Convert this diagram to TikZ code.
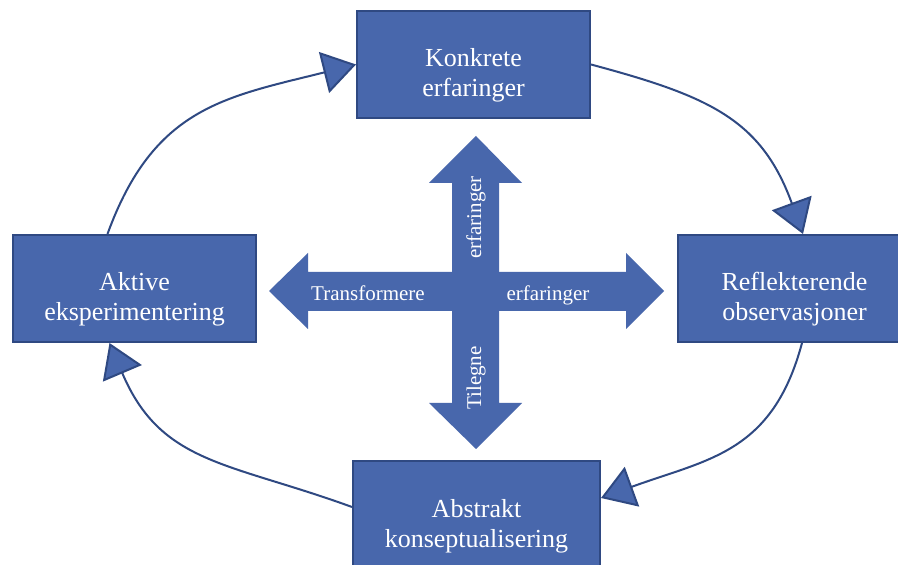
\documentclass[tikz,border=0pt]{standalone}
\usepackage{fontspec}
\setmainfont{Liberation Serif}
\usetikzlibrary{arrows.meta}
\definecolor{boxfill}{RGB}{72,103,172}
\definecolor{boxline}{RGB}{47,73,130}

\begin{document}
\begin{tikzpicture}[x=1pt, y=1pt,
    stage/.style={draw=boxline, line width=2pt, fill=boxfill, minimum height=107pt, inner sep=0pt},
    stagetext/.style={text=white, align=center, yshift=-11pt, font=\fontsize{26}{30}\selectfont},
    cycle/.style={draw=boxline, line width=2pt, looseness=1.15, -{Triangle[length=33pt, width=42pt, fill=boxfill]}},
    crosstext/.style={text=white, anchor=base, inner sep=0pt, font=\fontsize{21}{25}\selectfont}]
  \useasboundingbox[fill=white] (0, 0) rectangle (898, 565);

  % the four stages
  \node[stage, minimum width=233pt, label={[stagetext]center:Konkrete\\erfaringer}] (kon) at (473.5, 500.5) {};
  \node[stage, minimum width=233pt, label={[stagetext]center:Reflekterende\\observasjoner}] (refl) at (794.5, 276.5) {};
  \node[stage, minimum width=247pt, label={[stagetext]center:Abstrakt\\konseptualisering}] (abs) at (476.5, 50) {};
  \node[stage, minimum width=243pt, label={[stagetext]center:Aktive\\eksperimentering}] (akt) at (134.5, 276.5) {};

  % the cycle
  \draw[cycle] (kon.east) to[out=-15, in=110] ([xshift=8.5]refl.north);
  \draw[cycle] ([xshift=7.5]refl.south) to[out=-105, in=20] ([yshift=17]abs.east);
  \draw[cycle] ([yshift=8]abs.west) to[out=160, in=-67] ([xshift=-25]akt.south);
  \draw[cycle] ([xshift=-27]akt.north) to[out=70, in=194] (kon.west);

  % the cross in the middle
  \fill[boxfill] (269, 274) -- (308, 312) -- (308, 293) -- (626, 293) -- (626, 312) -- (664, 274)
    -- (626, 236) -- (626, 254) -- (308, 254) -- (308, 236) -- cycle;
  \fill[boxfill] (476, 429) -- (522, 382) -- (499, 382) -- (499, 162) -- (522, 162) -- (476, 116)
    -- (429, 162) -- (452, 162) -- (452, 382) -- (429, 382) -- cycle;

  \node[crosstext] (transf) at (368, 264) {Transformere};
  \node[crosstext] (erfh) at (548, 264) {erfaringer};
  \node[crosstext, rotate=90] (erfv) at (481, 347.5) {erfaringer};
  \node[crosstext, rotate=90] (tileg) at (481, 187) {Tilegne};
\end{tikzpicture}
\end{document}
